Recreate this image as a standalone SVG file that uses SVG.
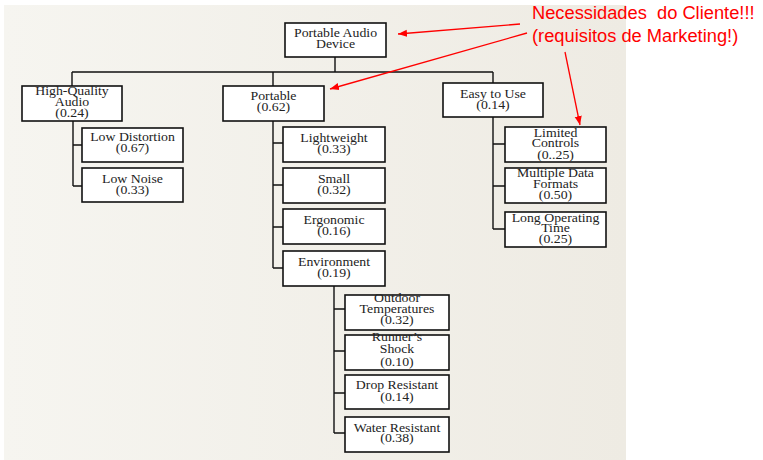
<svg xmlns="http://www.w3.org/2000/svg" width="763" height="460" viewBox="0 0 763 460">
<defs>
<linearGradient id="bg" x1="0" y1="0" x2="1" y2="0">
<stop offset="0" stop-color="#f6f5f0"/>
<stop offset="1" stop-color="#eeebe3"/>
</linearGradient>
<marker id="ah" viewBox="0 0 10 10" refX="10" refY="5" markerWidth="9" markerHeight="9" markerUnits="userSpaceOnUse" orient="auto">
<path d="M0,1 L10,5 L0,9 Z" fill="#ff0000"/>
</marker>
<style>
.box{fill:#ffffff;stroke:#111;stroke-width:1.6}
.t{font-family:"Liberation Serif","Times New Roman",serif;font-size:11.5px;fill:#222;text-anchor:middle}
.c{fill:none;stroke:#111;stroke-width:1.4}
.r{fill:none;stroke:#ff0000;stroke-width:1.3}
.rt{font-family:"Liberation Sans",Arial,sans-serif;font-size:18.3px;fill:#ff0000}
</style>
</defs>
<rect x="0" y="0" width="763" height="460" fill="#ffffff"/>
<rect x="4" y="5" width="622" height="455" fill="url(#bg)"/>

<g id="connectors">
<path class="c" d="M335,57 V72 M72,72 H493 M72,72 V86 M273,72 V86 M493,72 V83"/>
<path class="c" d="M73,121 V186 M73,145 H82 M73,186 H82"/>
<path class="c" d="M273,121 V268 M273,143 H283 M273,185 H283 M273,227 H283 M273,268 H283"/>
<path class="c" d="M493,117 V229 M493,144 H505 M493,186 H505 M493,229 H505"/>
<path class="c" d="M334,286 V433 M334,309 H345 M334,351 H345 M334,393 H345 M334,433 H345"/>
</g>

<g id="root">
<rect class="box" x="285" y="23" width="101" height="34"/>
<text class="t" transform="translate(335.5,0) scale(1.2,1)"><tspan x="0" y="37.5">Portable Audio</tspan><tspan x="0" y="48.5">Device</tspan></text>
</g>
<g id="hqa">
<rect class="box" x="22" y="86" width="100" height="35"/>
<text class="t" transform="translate(72,0) scale(1.2,1)"><tspan x="0" y="95">High-Quality</tspan><tspan x="0" y="106">Audio</tspan><tspan x="0" y="117">(0.24)</tspan></text>
</g>
<g id="portable">
<rect class="box" x="223" y="86" width="101" height="35"/>
<text class="t" transform="translate(273.5,0) scale(1.2,1)"><tspan x="0" y="100.5">Portable</tspan><tspan x="0" y="111.5">(0.62)</tspan></text>
</g>
<g id="easy">
<rect class="box" x="443" y="83" width="100" height="34"/>
<text class="t" transform="translate(493,0) scale(1.2,1)"><tspan x="0" y="98.3">Easy to Use</tspan><tspan x="0" y="109.3">(0.14)</tspan></text>
</g>

<g id="lowdist">
<rect class="box" x="82" y="128" width="101" height="34"/>
<text class="t" transform="translate(132.5,0) scale(1.2,1)"><tspan x="0" y="141">Low Distortion</tspan><tspan x="0" y="152.3">(0.67)</tspan></text>
</g>
<g id="lownoise">
<rect class="box" x="82" y="168" width="101" height="34"/>
<text class="t" transform="translate(132.5,0) scale(1.2,1)"><tspan x="0" y="183.3">Low Noise</tspan><tspan x="0" y="194">(0.33)</tspan></text>
</g>

<g id="lightweight">
<rect class="box" x="283" y="127" width="102" height="35"/>
<text class="t" transform="translate(334,0) scale(1.2,1)"><tspan x="0" y="141.7">Lightweight</tspan><tspan x="0" y="152.7">(0.33)</tspan></text>
</g>
<g id="small">
<rect class="box" x="283" y="168" width="102" height="35"/>
<text class="t" transform="translate(334,0) scale(1.2,1)"><tspan x="0" y="182.7">Small</tspan><tspan x="0" y="194">(0.32)</tspan></text>
</g>
<g id="ergonomic">
<rect class="box" x="283" y="209" width="102" height="35"/>
<text class="t" transform="translate(334,0) scale(1.2,1)"><tspan x="0" y="224.3">Ergonomic</tspan><tspan x="0" y="235.3">(0.16)</tspan></text>
</g>
<g id="environment">
<rect class="box" x="283" y="251" width="102" height="35"/>
<text class="t" transform="translate(334,0) scale(1.2,1)"><tspan x="0" y="266">Environment</tspan><tspan x="0" y="276.7">(0.19)</tspan></text>
</g>

<g id="limited">
<rect class="box" x="505" y="127" width="101" height="35"/>
<text class="t" transform="translate(555.5,0) scale(1.2,1)"><tspan x="0" y="136.7">Limited</tspan><tspan x="0" y="147.3">Controls</tspan><tspan x="0" y="158.7">(0..25)</tspan></text>
</g>
<g id="multiple">
<rect class="box" x="505" y="168" width="101" height="35"/>
<text class="t" transform="translate(555.5,0) scale(1.2,1)"><tspan x="0" y="176.7">Multiple Data</tspan><tspan x="0" y="188.3">Formats</tspan><tspan x="0" y="199.3">(0.50)</tspan></text>
</g>
<g id="longop">
<rect class="box" x="505" y="212" width="101" height="35"/>
<text class="t" transform="translate(555.5,0) scale(1.2,1)"><tspan x="0" y="221.7">Long Operating</tspan><tspan x="0" y="232">Time</tspan><tspan x="0" y="243.3">(0.25)</tspan></text>
</g>

<g id="outdoor">
<rect class="box" x="345" y="295" width="104" height="35"/>
<text class="t" transform="translate(397,0) scale(1.2,1)"><tspan x="0" y="301.7">Outdoor</tspan><tspan x="0" y="313.3">Temperatures</tspan><tspan x="0" y="324.3">(0.32)</tspan></text>
</g>
<g id="runner">
<rect class="box" x="345" y="335" width="104" height="35"/>
<text class="t" transform="translate(397,0) scale(1.2,1)"><tspan x="0" y="341">Runner’s</tspan><tspan x="0" y="353.3">Shock</tspan><tspan x="0" y="366">(0.10)</tspan></text>
</g>
<g id="drop">
<rect class="box" x="345" y="375" width="104" height="34"/>
<text class="t" transform="translate(397,0) scale(1.2,1)"><tspan x="0" y="389.3">Drop Resistant</tspan><tspan x="0" y="400.7">(0.14)</tspan></text>
</g>
<g id="water">
<rect class="box" x="345" y="417" width="104" height="35"/>
<text class="t" transform="translate(397,0) scale(1.2,1)"><tspan x="0" y="431.7">Water Resistant</tspan><tspan x="0" y="442.3">(0.38)</tspan></text>
</g>

<g id="note">
<text class="rt" x="532" y="19" xml:space="preserve">Necessidades  do Cliente!!!</text>
<text class="rt" x="532" y="42">(requisitos de Marketing!)</text>
</g>
<g id="note-arrows">
<path class="r" d="M520,24 L398,34" marker-end="url(#ah)"/>
<path class="r" d="M527,33 L330,89" marker-end="url(#ah)"/>
<path class="r" d="M565,52 L580,125" marker-end="url(#ah)"/>
</g>
</svg>
